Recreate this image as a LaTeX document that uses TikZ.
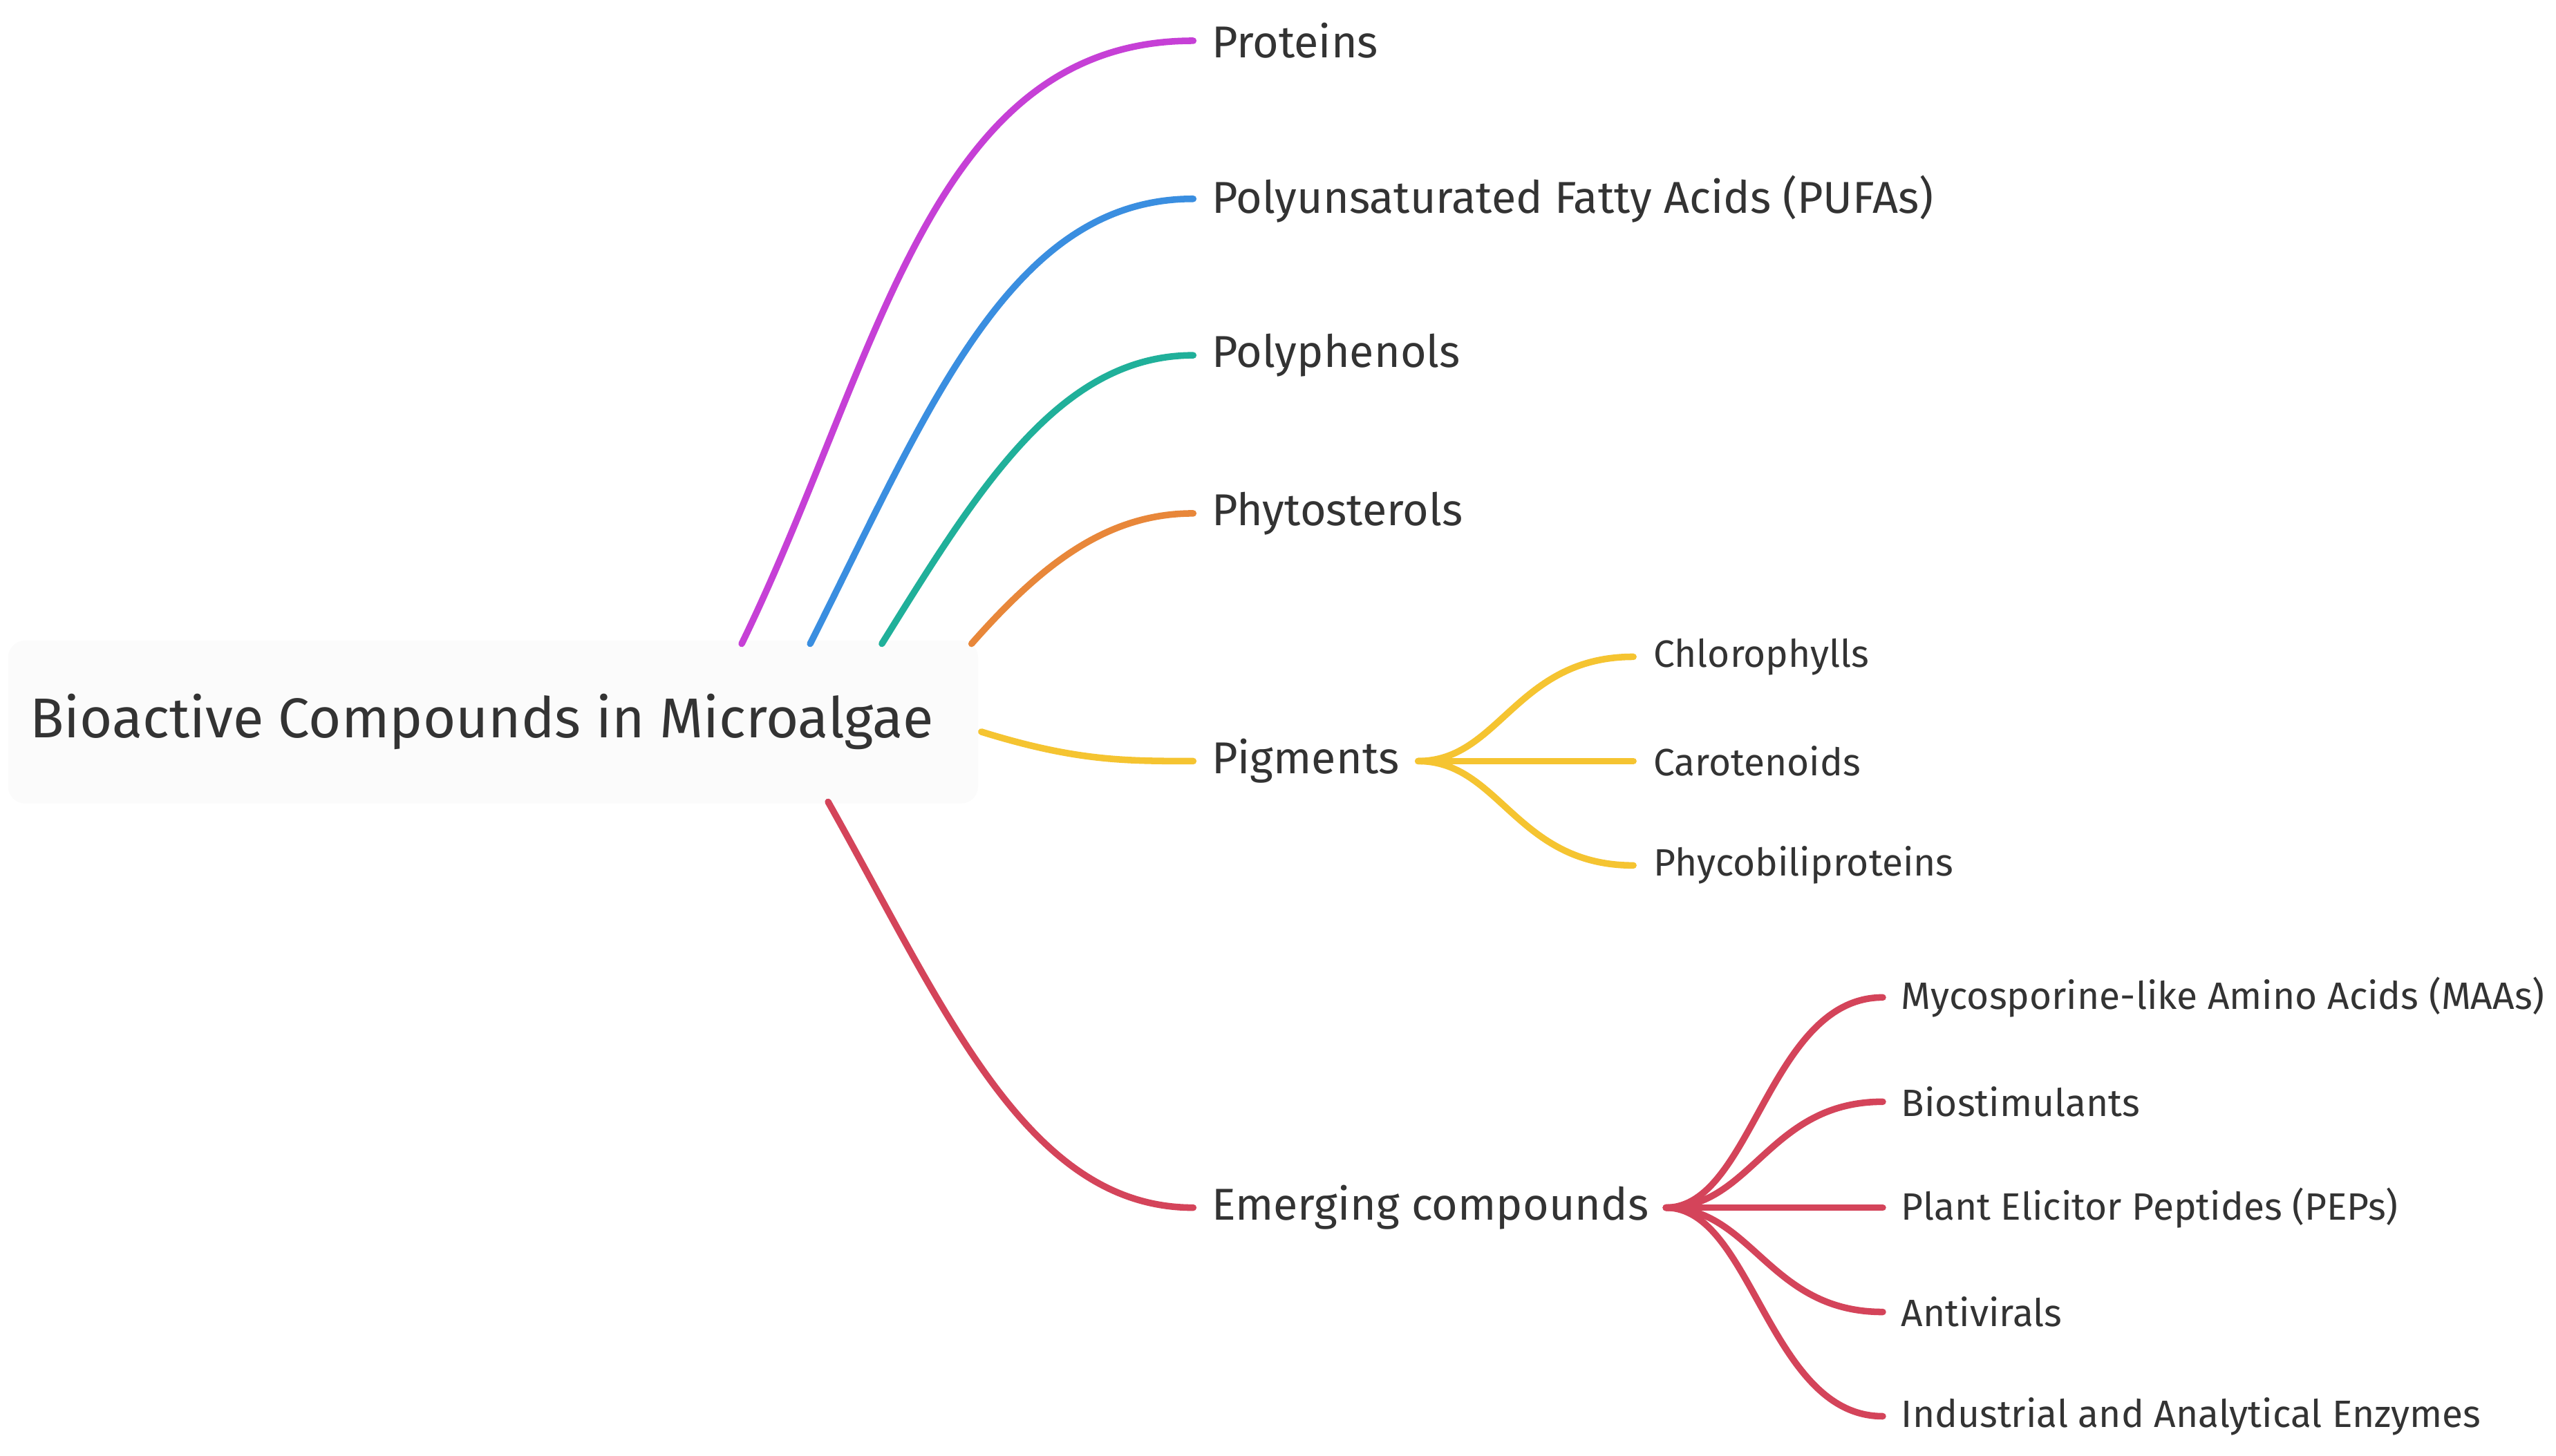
\documentclass[tikz,border=0pt]{standalone}
\usepackage{fontspec}
\setmainfont{Fira Sans}
\begin{document}
\begin{tikzpicture}[x=0.02cm,y=-0.02cm,
  br/.style={line width=2.3pt,line cap=round},
  lab/.style={anchor=west,inner sep=0pt,font=\fontsize{15.6}{17}\selectfont,text=black!80},
  sub/.style={anchor=west,inner sep=0pt,font=\fontsize{13.3}{15}\selectfont,text=black!80}]
\definecolor{cp}{HTML}{C640D6}\definecolor{cb}{HTML}{3A8EE0}
\definecolor{ct}{HTML}{20B09A}\definecolor{co}{HTML}{E8873A}
\definecolor{cy}{HTML}{F5C431}\definecolor{cr}{HTML}{D4445A}
\useasboundingbox (0,0) rectangle (1568,893);
\fill[white] (0,0) rectangle (1568,893);
\fill[black!1.5,rounded corners=6pt] (5,393) rectangle (600,493);
\node[anchor=west,inner sep=0pt,font=\fontsize{19.6}{22}\selectfont,text=black!80] (root) at (18,443) {Bioactive Compounds in Microalgae};
\coordinate (r1) at (455,395);\coordinate (r2) at (497,395);
\coordinate (r3) at (541,395);\coordinate (r4) at (596,395);
\coordinate (r5) at (602,449);\coordinate (r6) at (508,492);
\coordinate (e1) at (732,25);\coordinate (e2) at (732,122);\coordinate (e3) at (732,218);
\coordinate (e4) at (732,315);\coordinate (e5) at (732,467);\coordinate (e6) at (732,741);
\node[lab] (p1) at (743,25) {Proteins};
\node[lab] (p2) at (743,122) {Polyunsaturated Fatty Acids (PUFAs)};
\node[lab] (p3) at (743,218) {Polyphenols};
\node[lab] (p4) at (743,315) {Phytosterols};
\node[lab] (p5) at (743,467) {Pigments};
\node[lab] (p6) at (743,741) {Emerging compounds};
\draw[br,cp] (r1) .. controls (540,220) and (570,25) .. (e1);
\draw[br,cb] (r2) .. controls (570,250) and (620,122) .. (e2);
\draw[br,ct] (r3) .. controls (600,300) and (650,218) .. (e3);
\draw[br,co] (r4) .. controls (640,345) and (680,315) .. (e4);
\draw[br,cy] (r5) .. controls (660,467) and (690,467) .. (e5);
\draw[br,cr] (r6) .. controls (580,620) and (630,741) .. (e6);
\coordinate (pg) at (870,467);
\foreach \y/\t/\n in {403/Chlorophylls/a,467/Carotenoids/b,531/Phycobiliproteins/c}{
  \node[sub] (s\n) at (1014,\y) {\t};
  \coordinate (f\n) at (1002,\y);
  \draw[br,cy] (pg) .. controls (920,467) and (930,\y) .. (f\n);}
\coordinate (em) at (1022,741);
\foreach \y/\t/\n in {612/Mycosporine-like Amino Acids (MAAs)/a,676/Biostimulants/b,741/Plant Elicitor Peptides (PEPs)/c,805/Antivirals/d,869/Industrial and Analytical Enzymes/e}{
  \node[sub] (m\n) at (1166,\y) {\t};
  \coordinate (g\n) at (1155,\y);
  \draw[br,cr] (em) .. controls (1075,741) and (1085,\y) .. (g\n);}
\end{tikzpicture}
\end{document}
